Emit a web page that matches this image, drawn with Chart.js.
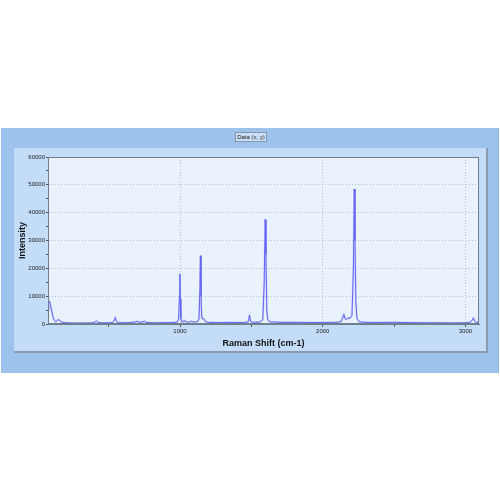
<!DOCTYPE html>
<html>
<head>
<meta charset="utf-8">
<script src="https://cdn.jsdelivr.net/npm/chart.js@4.4.1/dist/chart.umd.min.js"></script>
<style>
    body { margin: 0; background: #ffffff; font-family: "Liberation Sans", Arial, sans-serif; }
    #outer { position: absolute; left: 1px; top: 128px; width: 497px; height: 245px; background: #9dc2eb; border-right: 1px solid #8fb2da; }
    #inner { position: absolute; left: 14px; top: 148px; width: 472px; height: 203px; background: #c3ddf8; border-right: 2px solid #8a9bb0; border-bottom: 2px solid #8a9bb0; }
    #caption { position: absolute; left: 235px; top: 132px; width: 30px; height: 8px; border: 1px solid #8796a8; background: #c9e0f8;
        font-size: 6px; line-height: 8px; text-align: center; color: #222; white-space: nowrap; }
    #wrap { position: absolute; left: 0; top: 0; width: 500px; height: 500px; }
</style>
</head>
<body>
<div id="outer"></div>
<div id="inner"></div>
<div id="caption">Data (x, y)</div>
<div id="wrap"><canvas id="spectrum" width="500" height="500"></canvas></div>
<script>
// spectrum
var ramanShift = [75, 80, 86, 92, 100, 110, 120, 130, 140, 150, 160, 175, 200, 250, 300, 350, 390, 405, 415, 425, 450,
    500, 530, 540, 547, 554, 565, 600, 650, 690, 700, 710, 740, 750, 760, 800, 850, 900, 950, 980, 990, 996, 999, 1002,
    1006, 1012, 1025, 1030, 1036, 1060, 1080, 1090, 1110, 1125, 1133, 1139, 1143, 1147, 1152, 1158, 1165, 1172, 1180,
    1200, 1250, 1300, 1350, 1400, 1450, 1478, 1487, 1495, 1510, 1560, 1580, 1590, 1597, 1602, 1608, 1615, 1630, 1700,
    1800, 1900, 2000, 2100, 2130, 2148, 2155, 2165, 2175, 2190, 2205, 2215, 2221, 2226, 2232, 2240, 2255, 2300, 2400,
    2500, 2600, 2700, 2800, 2900, 3000, 3030, 3045, 3056, 3065, 3075, 3095];
var intensity = [4800, 7800, 8200, 7000, 5000, 2500, 1200, 800, 1300, 1600, 1000, 600, 450, 350, 350, 400, 400, 800, 1100, 600, 400,
    450, 500, 1500, 2400, 1000, 500, 450, 500, 800, 1000, 600, 800, 1000, 600, 450, 450, 500, 500, 700, 1600, 10000, 18000, 9000,
    2000, 800, 900, 1400, 900, 600, 1000, 800, 700, 900, 2000, 12000, 24500, 10000, 2500, 1800, 2000, 1500, 800,
    600, 500, 500, 600, 500, 550, 800, 3200, 900, 600, 700, 1500, 15000, 37500, 25000, 5000, 1500, 800, 600,
    600, 550, 550, 600, 900, 3500, 2000, 1500, 2200, 2000, 3000, 20000, 48500, 30000, 8000, 2000, 800, 600, 550,
    600, 500, 450, 450, 400, 450, 600, 1200, 2200, 1000, 600, 500];
var xTicks = [500, 1000, 1500, 2000, 2500, 3000];
var yTicks = [0, 5000, 10000, 15000, 20000, 25000, 30000, 35000, 40000, 45000, 50000, 55000, 60000];

var points = ramanShift.map(function (x, i) { return { x: x, y: intensity[i] }; });

var plotFrame = {
    id: 'plotFrame',
    beforeDraw: function (chart) {
        var a = chart.chartArea, c = chart.ctx;
        c.save();
        c.fillStyle = '#eaf3fd';
        c.fillRect(a.left, a.top, a.right - a.left, a.bottom - a.top);
        c.restore();
    },
    afterDraw: function (chart) {
        var a = chart.chartArea, c = chart.ctx;
        c.save();
        c.strokeStyle = '#6f7f90';
        c.lineWidth = 1;
        c.strokeRect(a.left + 0.5, a.top + 0.5, a.right - a.left - 1, a.bottom - a.top - 1);
        c.restore();
    }
};

function isMajor(v, step) { return v % step === 0; }

var ctx = document.getElementById('spectrum').getContext('2d');
var chart = new Chart(ctx, {
    type: 'scatter',
    data: {
        datasets: [{
            label: 'Data (x, y)',
            data: points,
            showLine: true,
            borderColor: 'rgba(160,160,255,0.35)',
            borderWidth: 2,
            pointRadius: 0,
            tension: 0
        }, {
            label: 'Data (x, y)',
            data: points,
            showLine: true,
            borderColor: '#4444f2',
            borderWidth: 1,
            pointRadius: 0,
            tension: 0
        }]
    },
    options: {
        responsive: false,
        animation: false,
        layout: { padding: { left: 15, right: 21, top: 157, bottom: 148 } },
        plugins: { legend: { display: false }, tooltip: { enabled: false } },
        scales: {
            x: {
                type: 'linear',
                min: 75,
                max: 3095,
                afterBuildTicks: function (s) { s.ticks = xTicks.map(function (v) { return { value: v }; }); },
                afterFit: function (s) { s.height = 28; },
                ticks: {
                    autoSkip: false, maxRotation: 0, padding: 1,
                    font: { size: 6, family: 'Liberation Sans' }, color: '#222',
                    callback: function (v) { return isMajor(v, 1000) ? String(v) : ''; }
                },
                grid: {
                    color: function (c) { return c.tick && isMajor(c.tick.value, 1000) ? '#b9c2cc' : 'rgba(0,0,0,0)'; },
                    tickColor: '#555',
                    tickLength: 3
                },
                border: { color: '#6f7f90', dash: [1, 2] },
                title: {
                    display: true, text: 'Raman Shift (cm-1)', color: '#111',
                    font: { size: 9, weight: 'bold', family: 'Liberation Sans' },
                    padding: { top: 0, bottom: 3 }
                }
            },
            y: {
                min: 0,
                max: 60000,
                afterBuildTicks: function (s) { s.ticks = yTicks.map(function (v) { return { value: v }; }); },
                afterFit: function (s) { s.width = 33; },
                ticks: {
                    autoSkip: false, padding: 1,
                    font: { size: 6, family: 'Liberation Sans' }, color: '#222',
                    callback: function (v) { return isMajor(v, 10000) ? String(v) : ''; }
                },
                grid: {
                    color: function (c) { return c.tick && isMajor(c.tick.value, 10000) ? '#b9c2cc' : 'rgba(0,0,0,0)'; },
                    tickColor: '#555',
                    tickLength: 2
                },
                border: { color: '#6f7f90', dash: [1, 2] },
                title: {
                    display: true, text: 'Intensity', color: '#111',
                    font: { size: 9, weight: 'bold', family: 'Liberation Sans' },
                    padding: { top: 2, bottom: 0 }
                }
            }
        }
    },
    plugins: [plotFrame]
});
</script>
</body>
</html>
